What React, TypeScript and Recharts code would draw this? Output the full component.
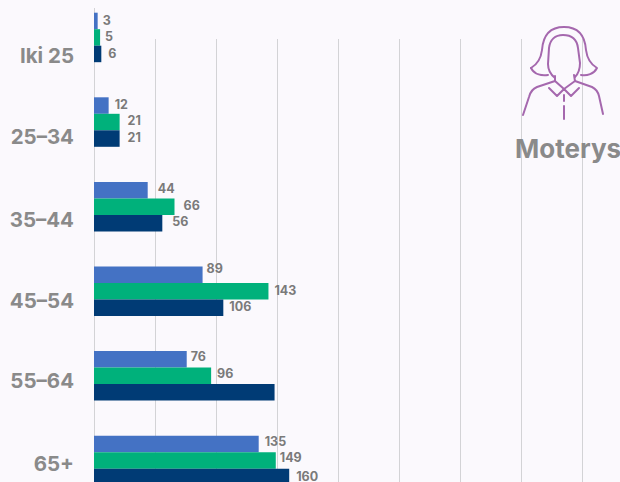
import React from "react";
import { BarChart, Bar, XAxis, YAxis, CartesianGrid, LabelList } from "recharts";

const categories = ["Iki 25", "25–34", "35–44", "45–54", "55–64", "65+"];
const seriesA = [3, 12, 44, 89, 76, 135];
const seriesB = [5, 21, 66, 143, 96, 149];
const seriesC = [6, 21, 56, 106, 148, 160];
const hiddenLabelC = [false, false, false, false, true, false];
const ticks = [0, 50, 100, 150, 200, 250, 300, 350, 400, 450];

const nudgeA = [[0, 0], [1, -1], [5, -1], [-1, -6], [-1, -2], [1, -2]];
const nudgeB = [[0, 0], [3, -1], [4, -1], [1, 0], [1, -2], [-1, -2]];
const nudgeC = [[2, 0], [3, -1], [5, -1], [1, -1], [0, 0], [2, 0]];
const tickNudge = [18.5, 15.5, 14, 10, 5.5, 4];

const rows = categories.map((name, i) => ({ name, a: seriesA[i], b: seriesB[i], c: seriesC[i] }));

const BG = "#FBF9FD";
const LABEL = "#7A7A7A";
const FONT = "Inter, 'Noto Sans', sans-serif";

const CategoryTick = (p: any) => (
  <text x={74} y={p.y + tickNudge[p.index]} dy={7} textAnchor="end" fontFamily={FONT} fontWeight={700} fontSize={20.5} fill="#8A8A8A">
    {p.payload.value}
  </text>
);

const makeLabel = (nudge: number[][], hidden?: boolean[]) => (p: any) => {
  if (hidden && hidden[p.index]) return null;
  return (
    <text x={p.x + p.width + 5 + nudge[p.index][0]} y={p.y + p.height / 2 + 4 + nudge[p.index][1]} fontFamily={FONT} fontWeight={700} fontSize={12.5} fill={LABEL}>
      {p.value}
    </text>
  );
};

export default function App() {
  return (
    <div style={{ position: "absolute", left: 0, top: 0, width: 620, height: 482, overflow: "hidden", background: BG }}>
      <div style={{ position: "absolute", left: 0, top: -19.5 }}>
        <BarChart
          width={643}
          height={560}
          data={rows}
          layout="vertical"
          barSize={16.5}
          barGap={0}
          margin={{ top: 13.7, right: 0, bottom: 38.7, left: 0 }}
        >
          <CartesianGrid horizontal={false} stroke="#D3D3D6" y={58} height={520} syncWithTicks shapeRendering="crispEdges" />
          <CartesianGrid horizontal={false} stroke="#D3D3D6" y={27} height={560} verticalPoints={[94]} shapeRendering="crispEdges" />
          <XAxis type="number" domain={[0, 450]} ticks={ticks} hide />
          <YAxis type="category" dataKey="name" width={94} axisLine={false} tickLine={false} tick={CategoryTick} interval={0} />
          <Bar dataKey="a" fill="#4472C4" isAnimationActive={false}>
            <LabelList dataKey="a" content={makeLabel(nudgeA)} />
          </Bar>
          <Bar dataKey="b" fill="#00B17B" isAnimationActive={false}>
            <LabelList dataKey="b" content={makeLabel(nudgeB)} />
          </Bar>
          <Bar dataKey="c" fill="#003B75" isAnimationActive={false}>
            <LabelList dataKey="c" content={makeLabel(nudgeC, hiddenLabelC)} />
          </Bar>
        </BarChart>
      </div>
      <svg width={620} height={482} style={{ position: "absolute", left: 0, top: 0 }}>
        <g fill="none" stroke="#A568AE" strokeWidth={2} strokeLinecap="round" strokeLinejoin="round">
          <path d="M531 68 C538 64 541 58 542 50 C543 36 549 27 564 27 C579 27 585 36 586 50 C587 58 590 64 597 68 C594 74 587 76 581 75" />
          <path d="M531 68 C534 74 541 76 548 75" />
          <path d="M555 78 C550 74 548 70 548 64 L549 48 C550 40 555 35 563 35 C572 35 577 40 578 48 L580 63 C580 70 578 74 575 77" />
          <path d="M555 76 L555 81 L537 87 C532 89 530 93 529 97 L523 115" />
          <path d="M574 75 L575 81 L592 87 C596 89 598 92 599 96 L603 114" />
          <path d="M549 88 L557 96 L564 89 L571 96 L579 88" />
          <path d="M555 81 L564 89 L575 81" />
          <path d="M564 95 L564 101" />
          <path d="M564 106 L564 119" />
        </g>
        <text x={515} y={158} fontFamily={FONT} fontWeight={700} fontSize={26} fill="#8A8A8A">Moterys</text>
      </svg>
    </div>
  );
}
